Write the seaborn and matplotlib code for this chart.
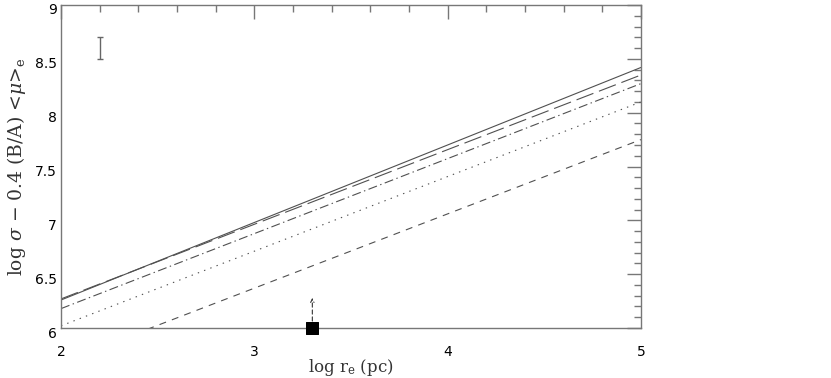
import matplotlib
matplotlib.use("Agg")
import matplotlib.pyplot as plt
import matplotlib.transforms as mtransforms
from matplotlib.ticker import MultipleLocator
import numpy as np
import pandas as pd
import seaborn as sns

sns.set_theme(style="white")
plt.rcParams['font.family'] = ['DejaVu Sans']
plt.rcParams['lines.scale_dashes'] = False
plt.rcParams['mathtext.fontset'] = 'dejavuserif'

# data
x_ends = [2.0, 5.0]
solid_y = [6.26, 8.42]
longdash_y = [6.27, 8.35]
dashdot_y = [6.18, 8.27]
dotted_y = [6.02, 8.10]
shortdash_y = [5.68, 7.75]

errbar_x = [2.2]
errbar_y = [8.6]
errbar_err = [0.1]

square_x = [3.3]
square_y = [6.0]
arrow_top = [6.28]

xticks = [2, 3, 4, 5]
yticks = [6, 6.5, 7, 7.5, 8, 8.5, 9]

series = [
    ("solid", solid_y, "-"),
    ("longdash", longdash_y, (0, (13, 4.3))),
    ("dashdot", dashdot_y, (0, (6.5, 2.5, 1, 2.5))),
    ("dotted", dotted_y, (0, (1, 3.8))),
    ("shortdash", shortdash_y, (0, (5, 4.5))),
]

fig = plt.figure(figsize=(8.31, 3.78), dpi=100)
ax = fig.add_axes([61/831, 1-328/378, 580/831, 323/378])

lc = "#505050"
for name, ys, ls in series:
    df = pd.DataFrame({"x": x_ends, "y": ys})
    sns.lineplot(data=df, x="x", y="y", ax=ax, color=lc, lw=0.8, linestyle=ls)

ax.errorbar(errbar_x, errbar_y, yerr=errbar_err, fmt="none", ecolor="#666666",
            elinewidth=1.0, capsize=2.5, capthick=1.0)

# lower limit arrow with square
ax.annotate("", xy=(square_x[0], arrow_top[0]), xytext=(square_x[0], square_y[0]),
            arrowprops=dict(arrowstyle="->", linestyle=(0, (3, 2)), color="#333333",
                            lw=0.8, shrinkA=0, shrinkB=0, mutation_scale=6))
sns.scatterplot(x=square_x, y=square_y, ax=ax, marker="s", s=80, color="black",
                edgecolor="black", clip_on=False, zorder=5)

ax.set_xlim(2, 5)
ax.set_ylim(6, 9)
ax.set_xticks(xticks)
ax.set_xticklabels([str(t) for t in xticks])
ax.set_yticks(yticks)
ax.set_yticklabels([("%g" % t) for t in yticks])
ax.xaxis.set_minor_locator(MultipleLocator(0.2))
ax.yaxis.set_minor_locator(MultipleLocator(0.1))
ax.tick_params(which="both", direction="in", top=True, right=True, colors="#777777",
               labelcolor="black", width=1.0)
ax.tick_params(which="major", length=10, labelsize=10)
ax.tick_params(which="minor", length=5)
ax.tick_params(axis="x", pad=12)
ax.tick_params(axis="y", pad=3)
for lab in ax.get_yticklabels():
    lab.set_transform(lab.get_transform() + mtransforms.ScaledTranslation(0, -4/100, fig.dpi_scale_trans))

for sp in ax.spines.values():
    sp.set_color("#777777")
    sp.set_linewidth(1.0)

ax.set_xlabel(r"log r$_{\rm e}$ (pc)", fontfamily="DejaVu Serif", fontsize=12, color="#333333")
ax.xaxis.set_label_coords(0.5, -0.09)
ax.set_ylabel(r"log $\sigma$ $-$ 0.4 (B/A) <$\mu$>$_{\rm e}$", fontfamily="DejaVu Serif",
              fontsize=13.5, color="#333333", labelpad=5)

fig.savefig("out.png", dpi=100)
